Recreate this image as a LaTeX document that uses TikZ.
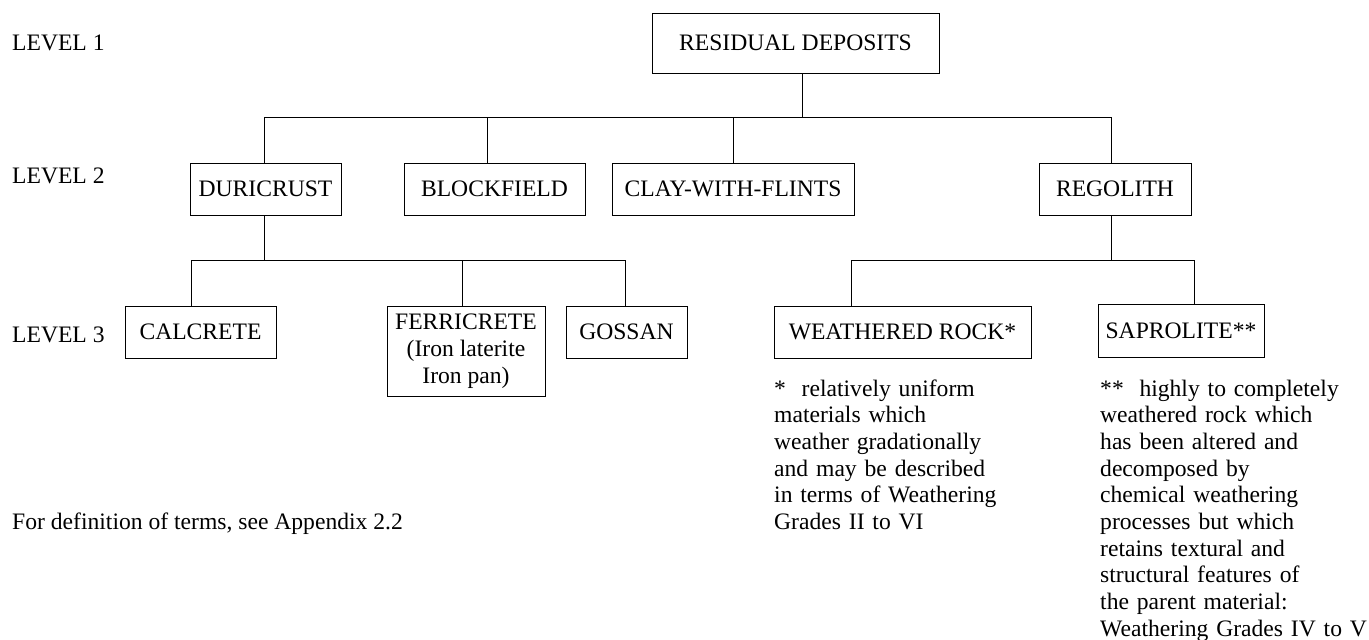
\documentclass[tikz,border=0pt]{standalone}
\usepackage{fontspec}
\setmainfont{Liberation Serif}
\newcommand\diagfont{\fontsize{23.6}{26.7}\selectfont}
\begin{document}
\begin{tikzpicture}[x=1pt,y=-1pt,
  box/.style={draw=black, line width=1pt, inner sep=0pt, align=center, font=\diagfont},
  link/.style={draw=black, line width=1pt},
  levellabel/.style={anchor=base west, inner sep=0pt, font=\diagfont},
  note/.style={anchor=base west, inner sep=0pt, font=\diagfont, text width=290pt, align=left}]
\useasboundingbox (0,0) rectangle (1369,640);

% level labels
\node[levellabel] (lv1) at (12,50) {LEVEL 1};
\node[levellabel] (lv2) at (12,183) {LEVEL 2};
\node[levellabel] (lv3) at (12,342) {LEVEL 3};
\node[levellabel] (defs) at (12,529) {For definition of terms, see Appendix 2.2};

% level 1
\node[box, minimum width=287pt, minimum height=60pt] (res) at (795.5,43) {RESIDUAL DEPOSITS};

% level 2
\node[box, minimum width=151pt, minimum height=52pt] (duri) at (265.5,189) {DURICRUST};
\node[box, minimum width=181pt, minimum height=52pt] (block) at (494.5,189) {BLOCKFIELD};
\node[box, minimum width=242pt, minimum height=52pt] (clay) at (733,189) {CLAY-WITH-FLINTS};
\node[box, minimum width=152pt, minimum height=52pt] (rego) at (1115,189) {REGOLITH};

% level 3
\node[box, minimum width=151pt, minimum height=52pt] (calc) at (200.5,332) {CALCRETE};
\node[box, minimum width=158pt, minimum height=90pt] (ferri) at (466,351) {FERRICRETE\\(Iron laterite\\Iron pan)};
\node[box, minimum width=121pt, minimum height=52pt] (goss) at (626.5,332) {GOSSAN};
\node[box, minimum width=257pt, minimum height=52pt] (wrock) at (902.5,332) {WEATHERED ROCK*};
\node[box, minimum width=166pt, minimum height=53pt] (sapro) at (1181,330.5) {SAPROLITE**};

% footnotes
\node[note] (fnA) at (774,396) {*\ \ relatively uniform\\materials which\\weather gradationally\\and may be described\\in terms of Weathering\\Grades II to VI};
\node[note] (fnB) at (1100,396) {**\ \ highly to completely\\weathered rock which\\has been altered and\\decomposed by\\chemical weathering\\processes but which\\retains textural and\\structural features of\\the parent material:\\Weathering Grades IV to V};

% junction points on the bus lines
\coordinate (j0) at (802,117);
\coordinate (j1) at (264,117);
\coordinate (j2) at (487,117);
\coordinate (j3) at (733,117);
\coordinate (j4) at (1111,117);
\coordinate (k0) at (264,260);
\coordinate (k1) at (191,260);
\coordinate (k2) at (462,260);
\coordinate (k3) at (625,260);
\coordinate (m0) at (1111,260);
\coordinate (m1) at (851,260);
\coordinate (m2) at (1194,260);

% residual deposits -> level 2
\draw[link] (j0 |- res.south) -- (j0);
\draw[link] (j1) -- (j4);
\draw[link] (j1) -- (j1 |- duri.north);
\draw[link] (j2) -- (j2 |- block.north);
\draw[link] (j3) -- (j3 |- clay.north);
\draw[link] (j4) -- (j4 |- rego.north);

% duricrust -> level 3
\draw[link] (k0 |- duri.south) -- (k0);
\draw[link] (k1) -- (k3);
\draw[link] (k1) -- (k1 |- calc.north);
\draw[link] (k2) -- (k2 |- ferri.north);
\draw[link] (k3) -- (k3 |- goss.north);

% regolith -> level 3
\draw[link] (m0 |- rego.south) -- (m0);
\draw[link] (m1) -- (m2);
\draw[link] (m1) -- (m1 |- wrock.north);
\draw[link] (m2) -- (m2 |- sapro.north);
\end{tikzpicture}
\end{document}
